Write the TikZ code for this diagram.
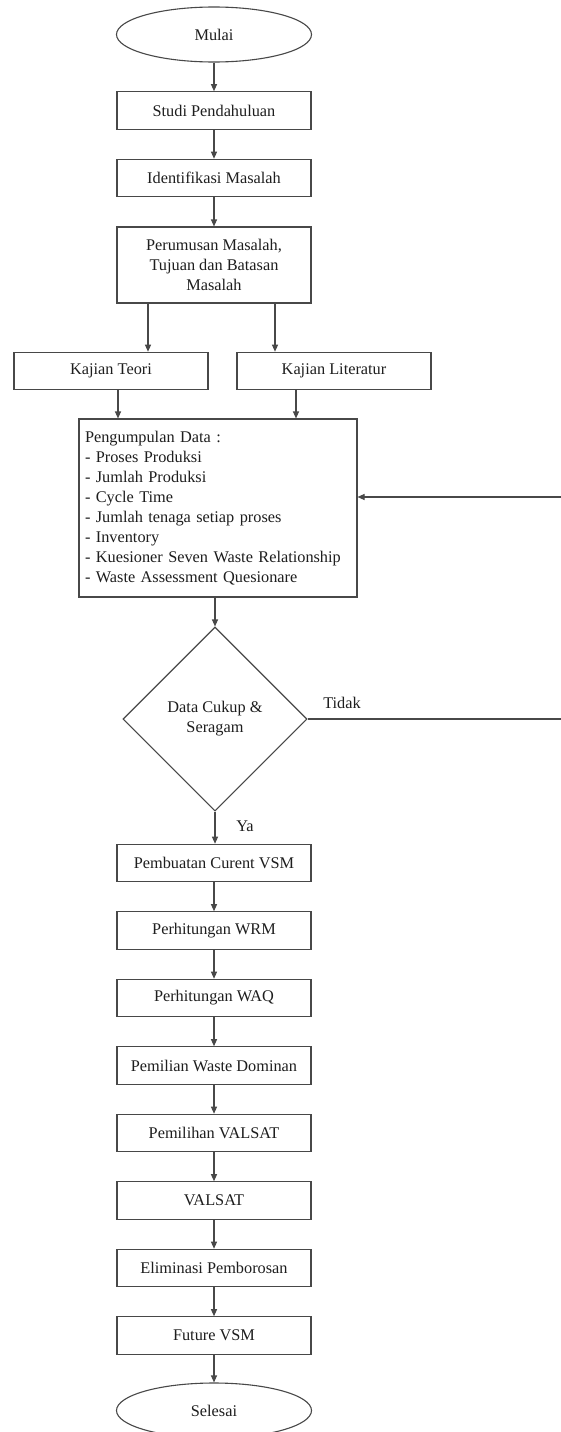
\documentclass[tikz,border=0pt]{standalone}
\usepackage{fontspec}
\setmainfont{Liberation Serif}
\usetikzlibrary{shapes.geometric,arrows.meta}
\definecolor{lineclr}{RGB}{72,72,72}
\definecolor{txtclr}{RGB}{30,30,30}
\tikzset{
  base/.style={draw=lineclr, line width=1.1pt, text=txtclr, font=\fontsize{16.3}{20}\selectfont, inner sep=0pt},
  procbox/.style={base, rectangle, minimum width=194pt, minimum height=37.5pt, align=center},
  termnode/.style={base, ellipse, minimum width=195pt, minimum height=55pt},
  decnode/.style={base, diamond, minimum width=184pt, minimum height=184pt, align=center},
  arr/.style={draw=lineclr, line width=1.1pt, -{Triangle[length=7pt,width=6pt]}},
  plain/.style={draw=lineclr, line width=1.1pt},
  lbl/.style={text=txtclr, font=\fontsize{16.3}{20}\selectfont, inner sep=0pt}
}
\begin{document}
\begin{tikzpicture}[x=1pt,y=-1pt]
\useasboundingbox[fill=white] (0,0) rectangle (561,1432);
\node[termnode] (mulai) at (214,34.5) {Mulai};
\node[procbox] (studi) at (214,110.5) {Studi Pendahuluan};
\node[procbox] (ident) at (214,178) {Identifikasi Masalah};
\node[procbox, minimum height=76pt] (perum) at (214,265) {Perumusan Masalah,\\Tujuan dan Batasan\\Masalah};
\node[procbox] (teori) at (111,371) {Kajian Teori};
\node[procbox] (lit) at (334,371) {Kajian Literatur};
\node[base, rectangle, minimum width=278pt, minimum height=178pt, text width=266pt, inner xsep=6pt, align=left] (data) at (218,508) {Pengumpulan Data :\\- Proses Produksi\\- Jumlah Produksi\\- Cycle Time\\- Jumlah tenaga setiap proses\\- Inventory\\- Kuesioner Seven Waste Relationship\\- Waste Assessment Quesionare};
\node[decnode] (dec) at (215,719) {Data Cukup \&\\Seragam};
\node[lbl] (tidak) at (342,703) {Tidak};
\node[lbl] (ya) at (245,826) {Ya};
\node[procbox] (vsm) at (214,863) {Pembuatan Curent VSM};
\node[procbox] (wrm) at (214,930.5) {Perhitungan WRM};
\node[procbox] (waq) at (214,998) {Perhitungan WAQ};
\node[procbox] (dom) at (214,1065.5) {Pemilian Waste Dominan};
\node[procbox] (pval) at (214,1133) {Pemilihan VALSAT};
\node[procbox] (valsat) at (214,1200.5) {VALSAT};
\node[procbox] (elim) at (214,1268) {Eliminasi Pemborosan};
\node[procbox] (fut) at (214,1335.5) {Future VSM};
\node[termnode] (sel) at (214,1410.5) {Selesai};
\coordinate (xa) at (148,0);
\coordinate (xb) at (275,0);
\coordinate (xc) at (118,0);
\coordinate (xd) at (296,0);
\coordinate (fbx) at (566,0);
\coordinate (fby) at (0,497);
\draw[arr] (mulai) -- (studi);
\draw[arr] (studi) -- (ident);
\draw[arr] (ident) -- (perum);
\draw[arr] (perum.south -| xa) -- (teori.north -| xa);
\draw[arr] (perum.south -| xb) -- (lit.north -| xb);
\draw[arr] (teori.south -| xc) -- (data.north -| xc);
\draw[arr] (lit.south -| xd) -- (data.north -| xd);
\draw[arr] (data.south -| dec.north) -- (dec.north);
\draw[plain] (dec.east) -- (dec.east -| fbx) -- (fbx |- fby);
\draw[arr] (fbx |- fby) -- (data.east |- fby);
\draw[arr] (dec.south) -- (vsm.north -| dec.south);
\draw[arr] (vsm) -- (wrm);
\draw[arr] (wrm) -- (waq);
\draw[arr] (waq) -- (dom);
\draw[arr] (dom) -- (pval);
\draw[arr] (pval) -- (valsat);
\draw[arr] (valsat) -- (elim);
\draw[arr] (elim) -- (fut);
\draw[arr] (fut) -- (sel);
\end{tikzpicture}
\end{document}
